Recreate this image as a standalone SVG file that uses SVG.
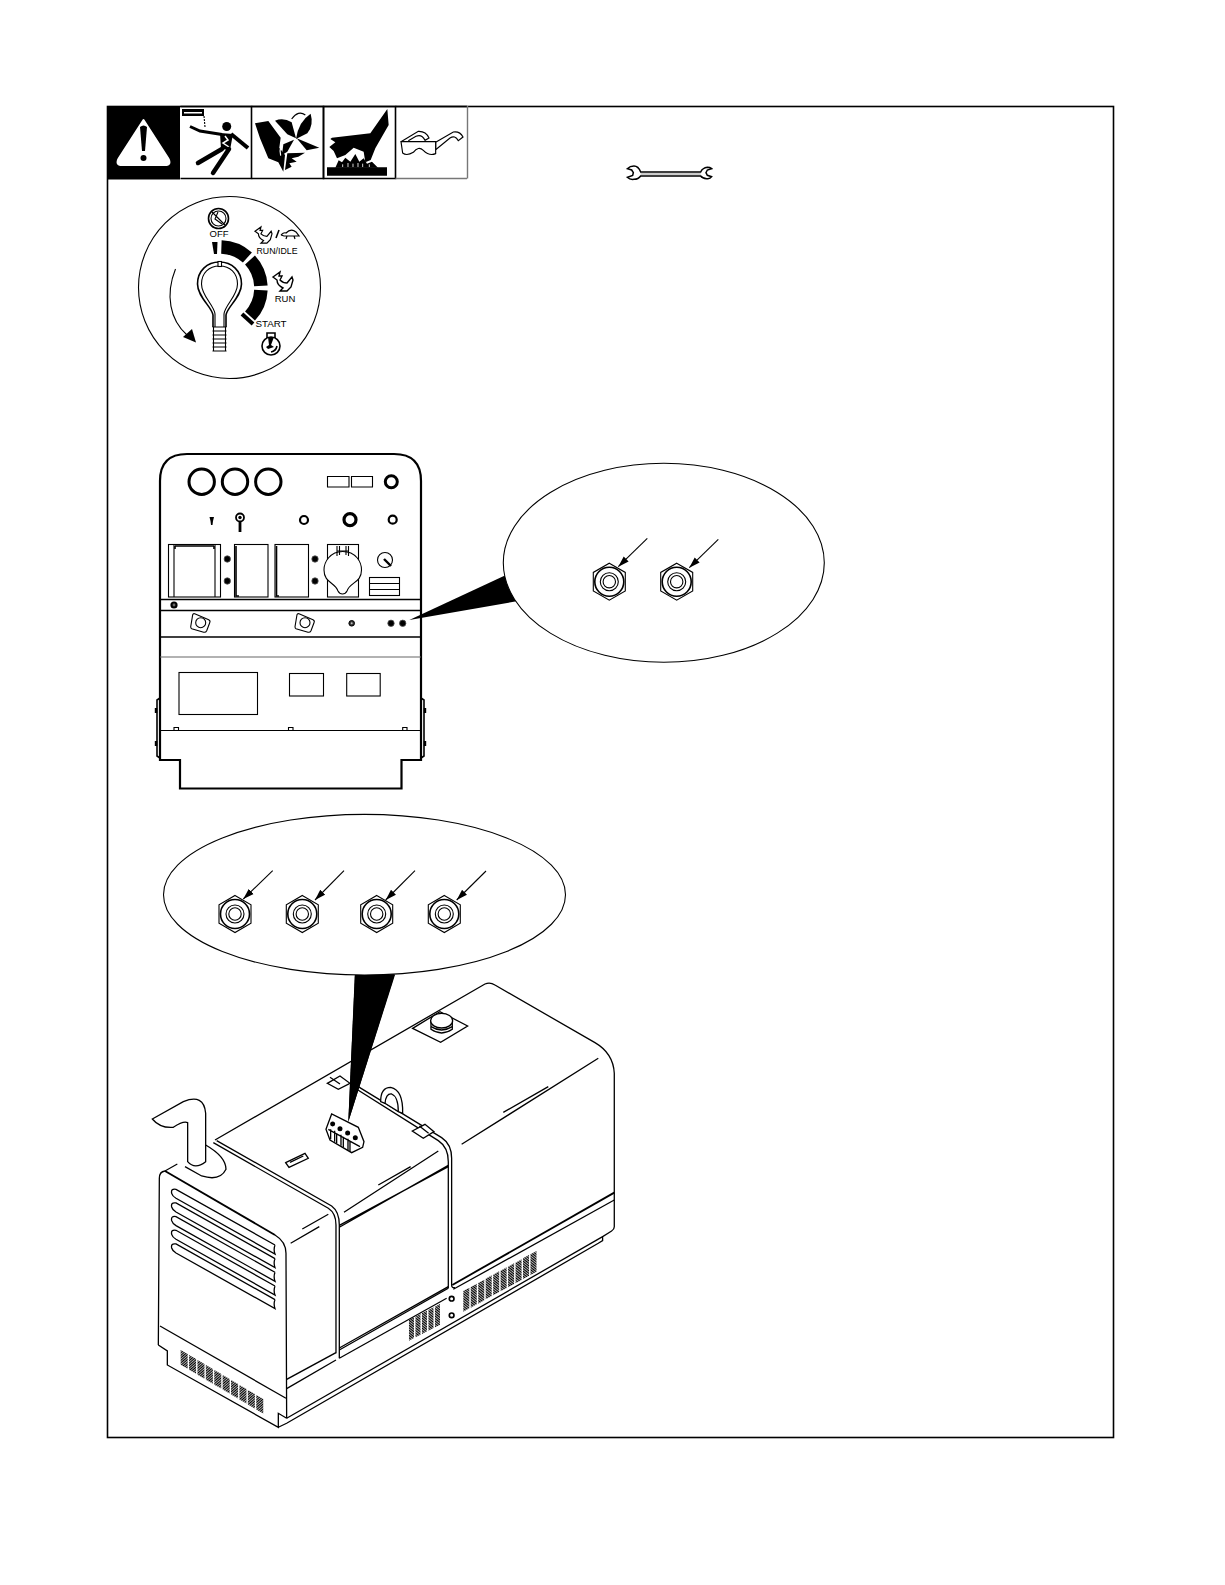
<svg xmlns="http://www.w3.org/2000/svg" xmlns:xlink="http://www.w3.org/1999/xlink" width="1225" height="1585" viewBox="0 0 1225 1585">
<style>
.l{fill:none;stroke:#000;stroke-width:1.1}
.m{fill:none;stroke:#000;stroke-width:1.6}
.h{fill:none;stroke:#000;stroke-width:3}
.w{fill:#fff;stroke:#000;stroke-width:1.1}
.k{fill:#000;stroke:none}
.t{font-family:"Liberation Sans",Arial,sans-serif;fill:#000}
.g{fill:none;stroke:#000;stroke-width:3.9}
.gw{fill:#fff;stroke:#000;stroke-width:3.9}
</style>
<defs>
<marker id="ah" markerUnits="userSpaceOnUse" markerWidth="12" markerHeight="8" refX="11" refY="4" orient="auto"><path d="M0 .5L11 4L0 7.500Z" fill="#000"/></marker>
<pattern id="hatchA" patternUnits="userSpaceOnUse" width="5" height="5" patternTransform="skewY(30)"><rect width="5" height="3.300" fill="#000"/></pattern>
<pattern id="hatchB" patternUnits="userSpaceOnUse" width="5" height="5" patternTransform="skewY(-28)"><rect width="5" height="3.300" fill="#000"/></pattern>
<g id="nut">
<path class="l" d="M0-18.500L16-9.300V9.300L0 18.500L-16 9.300V-9.300Z" fill="#fff"/>
<circle class="m" r="14.500" fill="#fff"/>
<circle class="l" r="9"/>
<circle class="l" r="6.200"/>
</g>
<path id="rabbit" d="M0 5L7 0L6 4L9 4L7 8Q10 11 14 11L19 5L20 8L18 15L14 19L7 19L10 16Q4 13 4 8Z" fill="#fff" stroke="#000" stroke-width="1.400"/>
<circle id="scr" r="3.200" fill="#000" stroke="#555" stroke-width=".8"/>
<g id="clamp"><path class="w" d="M-6-9L8-3Q10-2 9 0L6 8Q5 10 3 9.500L-9 6Q-10 5.500-10 4L-8-8Q-7.500-9.500-6-9Z"/><circle class="l" r="5"/></g>
</defs>

<g id="frame"><rect class="m" x="107.500" y="106.500" width="1006" height="1331" fill="#fff"/></g>

<g id="icon-warning">
<rect class="k" x="107" y="106" width="73" height="73.500"/>
<path d="M143.500 120L168 158Q172 165 165 165H122Q115 165 119 158Z" fill="#fff" stroke="#fff" stroke-width="2" stroke-linejoin="round"/>
<path class="k" d="M140 127Q143.500 124 147 127L145 151H142Z"/>
<circle class="k" cx="143.500" cy="158" r="3"/>
</g>

<g id="icon-shock">
<path class="m" d="M180.500 106.500H251.500V178.500H180.500"/>
<rect class="k" x="182" y="109" width="22" height="7"/>
<rect x="184" y="112" width="18" height="1.500" fill="#fff"/>
<path class="l" d="M204 116L205 127" stroke-dasharray="2 1"/>
<path fill="none" stroke="#000" stroke-width="3" d="M190 126.500L200 131L222 134.500"/>
<circle class="k" cx="226.700" cy="126.500" r="4.500"/>
<path fill="none" stroke="#000" stroke-width="4" d="M231 134L248 148"/>
<path class="k" d="M220 133L233 134L230 150L221 149Z"/>
<path d="M225 136L228 140L223 143L229 147" fill="none" stroke="#fff" stroke-width="1.500"/>
<path fill="none" stroke="#000" stroke-width="4.500" stroke-linecap="round" d="M222 149L198 163M229 149L213 173"/>
</g>

<g id="icon-fan">
<path class="m" d="M251.500 106.500H323.500V178.500H251.500"/>
<g transform="translate(250 105) scale(.3333)">
<path class="k" d="M15 55L55 48L92 98L88 128L105 150L100 200L85 172L55 160L30 100Z"/>
<path class="k" d="M75 47Q100 36 125 52L138 100L112 88Z"/>
<path class="k" d="M182 26Q192 60 172 85L138 102Q145 50 182 26Z"/>
<path class="k" d="M140 100L208 128L170 136Z"/>
<path class="k" d="M132 104L112 140L96 150L100 118Z"/>
<path class="k" d="M112 145L165 143L145 155L125 160L140 170L118 175L125 185L105 195Z"/>
<path d="M125 42Q145 14 166 30" fill="none" stroke="#000" stroke-width="3.500"/>
<path d="M105 105Q85 125 92 152" fill="none" stroke="#fff" stroke-width="3.500"/>
</g>
</g>

<g id="icon-burn">
<path class="m" d="M323.500 106.500H395.500V178.500H323.500Z"/>
<g transform="translate(322 105) scale(.3333)">
<path class="k" d="M196 12L200 60L160 130L146 165L130 172L125 140L95 128L70 150L45 160L35 138L22 126L40 112L25 102L30 98L145 85Z"/>
<path class="k" d="M15 187H195V212H15Z"/>
<path class="k" d="M40 188L50 166L60 172L70 158L85 170L100 147L112 170L125 160L135 176L150 170L168 188Z"/>
<path d="M62 178V186M78 174V186M93 176V186M108 174V186M122 176V186M142 178V186" stroke="#fff" stroke-width="2.500" fill="none"/>
</g>
</g>

<g id="icon-goggles">
<path class="m" d="M395.500 106.500H467"/>
<path d="M395.500 178.500H467M467.500 106V178.500" fill="none" stroke="#777" stroke-width="1.400"/>
<g transform="translate(290 103) scale(.3333)">
<path fill="#fff" stroke="#000" stroke-width="3.500" d="M333 116L385 85Q408 84 417 105L405 112Q395 92 378 100L355 113"/>
<path fill="#fff" stroke="#000" stroke-width="3.500" d="M437 118L490 87Q510 84 519 102L505 113Q495 95 480 105L437 140Z"/>
<path fill="#fff" stroke="#000" stroke-width="3.500" d="M333 116H437V152Q418 160 400 142Q385 128 370 148Q350 160 338 150Z"/>
</g>
</g>

<g id="wrench">
<g transform="translate(620 160) scale(.3333)">
<path fill="#fff" stroke="#000" stroke-width="4.500" d="M62 36H242Q248 24 262 22Q270 22 275 26L262 30L258 38L262 46L275 50Q270 58 260 56Q247 55 242 48H62Q55 58 42 58Q30 60 22 52L38 46L40 38L35 30L22 26Q30 18 42 18Q55 18 62 36Z"/>
<path d="M62 42H242" fill="none" stroke="#999" stroke-width="3"/>
</g>
</g>

<g id="ignition-dial">
<circle class="l" cx="229.500" cy="287.500" r="91" fill="#fff"/>
<path class="k" d="M212 242L217.500 242L217 254L214 254Z"/>
<g fill="none" stroke="#000" stroke-width="13.500">
<path d="M221.400 247A41 41 0 0 1 247.400 257.500"/>
<path d="M250 260A41 41 0 0 1 260.900 285.900"/>
<path d="M260.900 290.100A41 41 0 0 1 250 316"/>
</g>
<path fill="none" stroke="#000" stroke-width="4" d="M242 314L253 324"/>
<path class="m" d="M213 327V315C212 307 197.500 297 197.500 284C197.500 271 207 262 219.500 262C232 262 241.500 271 241.500 284C241.500 297 227 307 226 315V327"/>
<path class="l" d="M215 327V314C214 305 201.500 296 201.500 284C201.500 273 209 266 219.500 266C230 266 237.500 273 237.500 284C237.500 296 225 305 224 314V327"/>
<rect class="w" x="218" y="261.500" width="3.500" height="5"/>
<path class="l" d="M212.500 327H226.500M212.500 331H226.500M212.500 335H226.500M212.500 339H226.500M212.500 343H226.500M212.500 347H226.500M212.500 351H226.500M213.500 327V351M225.500 327V351"/>
<path class="l" d="M175.500 269C165 295 170 320 187 335"/>
<path class="k" d="M196 342.500L183 337L192 329Z"/>
<circle class="m" cx="218.500" cy="218.500" r="10"/>
<circle class="l" cx="218.500" cy="218.500" r="7.500"/>
<path class="l" d="M212 212L225 225M218 212L215 219L222 224"/>
<text class="t" x="219" y="237" font-size="9.500" text-anchor="middle">OFF</text>
<use xlink:href="#rabbit" transform="translate(255 227) scale(.85)"/>
<path class="m" d="M276 238L279 230"/>
<path fill="#fff" stroke="#000" stroke-width="1.200" d="M281 235Q284 232 286 233Q291 228 296 232L299 236L284 236L281 235M287 236L286 239M294 236L295 239"/>
<text class="t" x="277" y="253.500" font-size="8.800" text-anchor="middle" textLength="41" lengthAdjust="spacingAndGlyphs">RUN/IDLE</text>
<use xlink:href="#rabbit" transform="translate(273 272)"/>
<text class="t" x="285" y="302" font-size="9.500" text-anchor="middle">RUN</text>
<text class="t" x="271" y="327" font-size="9.800" text-anchor="middle">START</text>
<path class="m" d="M267 338V333H275V338"/>
<circle class="m" cx="271" cy="346" r="9"/>
<path class="k" d="M268 337H274L271 345L274 347L268 349L266 347L269 345Z"/>
<path class="m" d="M271 352Q276 351 277 346"/>
</g>

<g id="control-panel">
<path d="M160 760V481Q160 454 187 454H394Q421 454 421 481V760H401.500V788.500H180V760Z" fill="#fff" stroke="#000" stroke-width="2.200"/>
<g class="h"><circle cx="201.700" cy="481.700" r="12.700"/><circle cx="235" cy="481.700" r="12.700"/><circle cx="268.300" cy="481.700" r="12.700"/></g>
<path class="l" d="M327.500 476.500H349V487H327.500ZM351.500 476.500H372.500V487H351.500Z"/>
<circle class="h" cx="391.300" cy="481.700" r="6"/>
<path class="k" d="M209.500 517H214L213 521L212.500 525H211L210.500 521Z"/>
<circle cx="240" cy="517.500" r="4" fill="#fff" stroke="#000" stroke-width="1.800"/><circle class="k" cx="240" cy="517.500" r="1.700"/>
<path fill="none" stroke="#000" stroke-width="2.800" d="M240 521V532"/>
<circle cx="304" cy="520" r="4" fill="none" stroke="#000" stroke-width="2.200"/>
<circle cx="350" cy="519.700" r="6" fill="none" stroke="#000" stroke-width="3.200"/>
<circle cx="392.700" cy="519.700" r="4" fill="none" stroke="#000" stroke-width="2.200"/>
<rect class="l" x="168.500" y="544.500" width="52" height="52.500"/>
<path class="l" d="M174 544.500V597M215 544.500V597"/>
<path class="m" d="M175 546H214M175 546V549M214 546V549"/>
<use xlink:href="#scr" x="227.300" y="559"/><use xlink:href="#scr" x="227.300" y="581"/>
<rect class="l" x="234.500" y="544.500" width="33.500" height="52.500"/>
<path class="m" d="M236 546V596H239"/>
<rect class="l" x="275" y="544.500" width="33.500" height="52.500"/>
<path class="m" d="M276.500 546V596H279"/>
<use xlink:href="#scr" x="315" y="559"/><use xlink:href="#scr" x="315" y="581"/>
<rect class="l" x="327.500" y="544.500" width="31" height="52.500"/>
<path class="w" d="M342.700 551.500C356 551.500 361.500 562 361.500 570C361.500 583 350 582 347 591C345 595 340 595 338 591C335 582 324 583 324 570C324 562 330 551.500 342.700 551.500Z"/>
<path class="l" d="M337 546V556M339.500 546V555M346 546V555M348.500 546V556M337 551H348.500"/>
<circle class="l" cx="385" cy="560" r="7.500"/>
<path fill="none" stroke="#000" stroke-width="2.400" d="M384 559L391 566"/>
<rect class="l" x="369.500" y="577.500" width="30" height="18"/>
<path class="l" d="M369.500 583.500H399.500M369.500 589.500H399.500"/>
<path d="M160 599.500H421M160 610.500H421M160 637H421" fill="none" stroke="#000" stroke-width="1.300"/>
<path d="M160 657H421" fill="none" stroke="#666" stroke-width="1.200"/>
<circle class="k" cx="174" cy="605" r="3.600"/><circle cx="174" cy="605" r="1.400" fill="#666"/>
<use xlink:href="#clamp" x="200.700" y="622.700"/>
<use xlink:href="#clamp" x="305" y="622.700"/>
<circle cx="351.700" cy="623.300" r="2.800" fill="#333" stroke="#000"/><circle cx="351.700" cy="623.300" r="1" fill="#bbb"/>
<use xlink:href="#scr" x="391" y="623.300"/><use xlink:href="#scr" x="402.700" y="623.300"/>
<rect class="l" x="179" y="672.500" width="78.500" height="42"/>
<rect class="l" x="289.500" y="673.500" width="34" height="22.500"/>
<rect class="l" x="346.700" y="673.500" width="33.500" height="22.500"/>
<path d="M160 730.500H421" fill="none" stroke="#000" stroke-width="1.200"/>
<path class="l" d="M174 730V727.500H178.500V730M288.500 730V727.500H293V730M402.700 730V727.500H407V730"/>
<path class="m" d="M160 698L157 700V756L160 758M421 698L424 700V756L421 758"/>
<path d="M156 708V713M156 741V746M425 708V713M425 741V746" fill="none" stroke="#000" stroke-width="2.400"/>
</g>

<g id="callout-front">
<path class="k" d="M409.300 620L506 575L518 601Z"/>
<ellipse class="w" cx="663.800" cy="562.800" rx="160.500" ry="99.500"/>
<use xlink:href="#nut" x="609.300" y="581.700"/>
<use xlink:href="#nut" x="676.700" y="581.700"/>
</g>

<g id="callout-top">
<path class="k" d="M355 970H396L348.300 1122Z"/>
<ellipse class="w" cx="364.500" cy="894.700" rx="201" ry="80.300"/>
<use xlink:href="#nut" x="235" y="914"/>
<use xlink:href="#nut" x="302.300" y="914"/>
<use xlink:href="#nut" x="376.700" y="914"/>
<use xlink:href="#nut" x="444.300" y="914"/>
</g>

<g id="connectors" fill="none" stroke="#000" stroke-width="1.100">
<path marker-end="url(#ah)" d="M647.300 538.300L618.300 566.700"/>
<path marker-end="url(#ah)" d="M718.300 539.300L689.300 567.700"/>
<path marker-end="url(#ah)" d="M272.700 870.700L243.300 899"/>
<path marker-end="url(#ah)" d="M344 870.700L315 900"/>
<path marker-end="url(#ah)" d="M415 870.700L385.700 900"/>
<path marker-end="url(#ah)" d="M486 871L456.700 900"/>
</g>

<g id="generator" transform="translate(140 970) scale(.3333)">
<path class="g" d="M225 510L1035 42Q1050 35 1065 45L1365 218Q1420 250 1423 310V770Q1423 778 1415 783L1388 800V812L1375 820L440 1360L415 1372"/>
<path class="g" d="M1388 800L440 1345"/>
<path d="M75 603L405 795" fill="none" stroke="#000" stroke-width="5.500"/>
<path class="g" d="M55 1125L58 625Q58 605 75 603L112 582"/>
<path class="g" d="M405 795Q438 815 438 850L440 1345"/>
<path class="g" d="M60 1068L438 1285"/>
<path class="g" d="M55 1125L82 1143V1185L415 1372V1330L440 1345"/>
<path class="g" d="M405 825L108 658Q92 655 95 670Q97 678 108 685L405 852Q400 838 405 825"/>
<path class="g" d="M405 866L108 699Q92 696 95 711Q97 719 108 726L405 893Q400 879 405 866"/>
<path class="g" d="M405 907L108 740Q92 737 95 752Q97 760 108 767L405 934Q400 920 405 907"/>
<path class="g" d="M405 948L108 781Q92 778 95 793Q97 801 108 808L405 975Q400 961 405 948"/>
<path class="g" d="M405 989L108 822Q92 819 95 834Q97 842 108 849L405 1016Q400 1002 405 989"/>
<path class="gw" d="M197 525Q258 560 258 598Q240 635 185 618L135 590"/>
<path class="gw" d="M37 447L130 395Q192 370 197 430V575Q165 600 143 575V458Q130 452 100 472Q60 475 37 447Z"/>
<path class="g" d="M220 518L565 715Q588 730 588 765V1150"/>
<path class="g" d="M230 512L575 708Q598 725 598 765V1165"/>
<path class="g" d="M630 345L895 512Q925 532 925 575V955"/>
<path class="g" d="M635 338L905 503Q935 523 935 565V945Q935 955 945 953"/>
<path class="g" d="M598 772L925 586M598 766L925 590"/>
<path class="g" d="M598 1140L925 955M598 1134L925 950"/>
<path class="g" d="M598 1165L920 985"/>
<path d="M440 1228L588 1148" fill="none" stroke="#000" stroke-width="4.500"/>
<path class="g" d="M440 1256L588 1170"/>
<path d="M937 945L1423 668" fill="none" stroke="#000" stroke-width="5.500"/>
<path class="g" d="M940 958L1423 690"/>
<path class="g" d="M612 727L895 543M715 645L812 590M452 820L538 770M487 777L565 733"/>
<path class="g" d="M965 523L1375 265M1090 427L1225 350"/>
<path fill="url(#hatchB)" d="M970 963l18-10v62l-18 10zM992.400 951l18-10v62l-18 10zM1014.800 939l18-10v62l-18 10zM1037.200 926l18-10v62l-18 10zM1059.600 914l18-10v62l-18 10zM1082 902l18-10v62l-18 10zM1104.400 890l18-10v62l-18 10zM1126.800 878l18-10v62l-18 10zM1149.200 865l18-10v62l-18 10zM1171.600 853l18-10v62l-18 10z"/>
<path fill="url(#hatchB)" d="M807 1050l15-8v62l-15 8zM826.500 1040l15-8v62l-15 8zM846 1030l15-8v62l-15 8zM865.500 1020l15-8v62l-15 8zM885 1010l15-8v62l-15 8z"/>
<path fill="url(#hatchA)" d="M122 1140l21 12v44l-21-12zM147.200 1155l21 12v44l-21-12zM172.400 1170l21 12v44l-21-12zM197.600 1185l21 12v44l-21-12zM222.800 1200l21 12v44l-21-12zM248 1215l21 12v44l-21-12zM273.200 1230l21 12v44l-21-12zM298.400 1245l21 12v44l-21-12zM323.600 1260l21 12v44l-21-12zM348.800 1275l21 12v44l-21-12z"/>
<circle cx="935" cy="986" r="7" fill="none" stroke="#000" stroke-width="5"/>
<circle cx="935" cy="1036" r="7" fill="none" stroke="#000" stroke-width="5"/>
<path class="gw" d="M437 578L495 550L505 565L447 592Z"/>
<path class="g" d="M450 577L490 558"/>
<path class="gw" d="M722 395Q722 352 752 352Q790 360 788 430L775 425L735 400Z"/>
<path class="g" d="M735 402Q737 370 755 372Q775 380 775 425"/>
<path class="gw" d="M562 340L600 318L630 340L595 358Z"/>
<path class="g" d="M570 322L600 342"/>
<path class="gw" d="M817 483L855 463L882 485L850 505Z"/>
<path class="g" d="M838 468L866 490"/>
<path class="gw" d="M818 175L900 125L983 168L902 217Z"/>
<path class="gw" d="M873 150V178Q905 200 937 178V150"/>
<ellipse class="gw" cx="905" cy="152" rx="33" ry="22"/>
<path class="g" d="M873 170Q905 190 937 170"/>
<path class="gw" d="M558 478L575 432L655 472L672 515L668 532L635 548L570 510Z"/>
<path class="g" d="M565 478L660 530M572 478V508M590 490V520M610 500V532M630 512V545M584 482V515M603 494V527M624 506V540"/>
<circle class="k" cx="578" cy="462" r="7.500"/>
<circle class="k" cx="600" cy="476" r="7.500"/>
<circle class="k" cx="623" cy="489" r="7.500"/>
<circle class="k" cx="646" cy="503" r="7.500"/>
<path class="k" d="M645 15H765L625 455Z"/>
</g>
</svg>
